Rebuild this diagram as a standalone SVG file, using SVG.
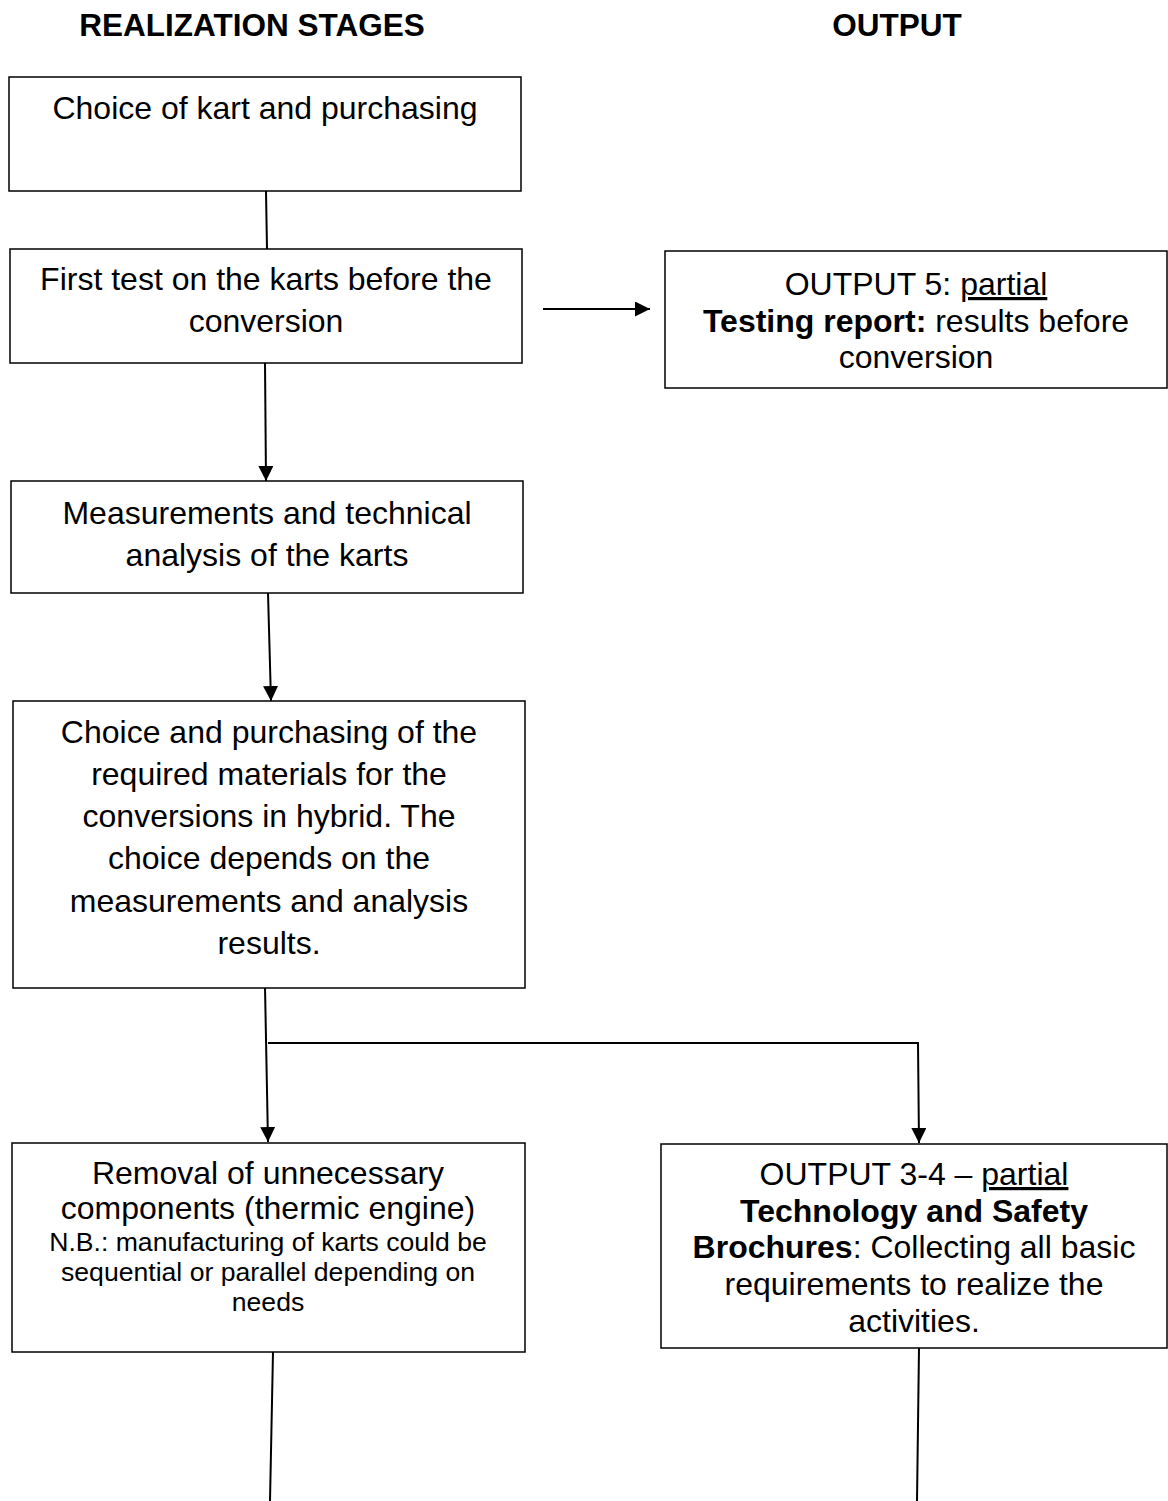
<svg xmlns="http://www.w3.org/2000/svg" width="1168" height="1501" viewBox="0 0 1168 1501">
<style>
.box{fill:#fff;stroke:#000;stroke-width:1.5}
.t{font-family:"Liberation Sans",Arial,sans-serif;font-size:32px;fill:#000;text-anchor:middle}
.s{font-family:"Liberation Sans",Arial,sans-serif;font-size:26.6px;fill:#000;text-anchor:middle}
.h{font-family:"Liberation Sans",Arial,sans-serif;font-size:31.5px;font-weight:bold;fill:#000;text-anchor:middle}
.b{font-weight:bold}
.u{text-decoration:underline}
.c{fill:none;stroke:#000;stroke-width:2}
</style>
<defs>
<marker id="arr" viewBox="0 0 10 10" refX="10" refY="5" markerWidth="7.5" markerHeight="7.5" markerUnits="strokeWidth" orient="auto">
<path d="M0,0 L10,5 L0,10 Z" fill="#000"/>
</marker>
</defs>
<rect width="1168" height="1501" fill="#fff"/>
<g id="headers">
<text class="h" x="252" y="36">REALIZATION STAGES</text>
<text class="h" x="897" y="36">OUTPUT</text>
</g>
<g id="connectors">
<line class="c" x1="266" y1="191" x2="267" y2="249"/>
<line class="c" x1="543" y1="309" x2="650" y2="309" marker-end="url(#arr)"/>
<line class="c" x1="265" y1="363" x2="266" y2="481" marker-end="url(#arr)"/>
<line class="c" x1="268" y1="593" x2="271" y2="701" marker-end="url(#arr)"/>
<line class="c" x1="265" y1="987" x2="268" y2="1142" marker-end="url(#arr)"/>
<polyline class="c" points="268,1043 918,1043 919,1143" marker-end="url(#arr)"/>
<line class="c" x1="273" y1="1352" x2="270" y2="1501"/>
<line class="c" x1="919" y1="1348" x2="917" y2="1501"/>
</g>
<g id="n1">
<rect class="box" x="9" y="77" width="512" height="114"/>
<text class="t" x="265" y="119">Choice of kart and purchasing</text>
</g>
<g id="n2">
<rect class="box" x="10" y="249" width="512" height="114"/>
<text class="t" x="266" y="290">First test on the karts before the</text>
<text class="t" x="266" y="332">conversion</text>
</g>
<g id="n3">
<rect class="box" x="665" y="251" width="502" height="137"/>
<text class="t" x="916" y="295">OUTPUT 5: <tspan class="u">partial</tspan></text>
<text class="t" x="916" y="332"><tspan class="b">Testing report:</tspan> results before</text>
<text class="t" x="916" y="368">conversion</text>
</g>
<g id="n4">
<rect class="box" x="11" y="481" width="512" height="112"/>
<text class="t" x="267" y="524">Measurements and technical</text>
<text class="t" x="267" y="566">analysis of the karts</text>
</g>
<g id="n5">
<rect class="box" x="13" y="701" width="512" height="287"/>
<text class="t" x="269" y="743">Choice and purchasing of the</text>
<text class="t" x="269" y="785">required materials for the</text>
<text class="t" x="269" y="827">conversions in hybrid. The</text>
<text class="t" x="269" y="869">choice depends on the</text>
<text class="t" x="269" y="912">measurements and analysis</text>
<text class="t" x="269" y="954">results.</text>
</g>
<g id="n6">
<rect class="box" x="12" y="1143" width="513" height="209"/>
<text class="t" x="268" y="1184">Removal of unnecessary</text>
<text class="t" x="268" y="1219">components (thermic engine)</text>
<text class="s" x="268" y="1251">N.B.: manufacturing of karts could be</text>
<text class="s" x="268" y="1281">sequential or parallel depending on</text>
<text class="s" x="268" y="1311">needs</text>
</g>
<g id="n7">
<rect class="box" x="661" y="1144" width="506" height="204"/>
<text class="t" x="914" y="1185">OUTPUT 3-4 – <tspan class="u">partial</tspan></text>
<text class="t b" x="914" y="1222">Technology and Safety</text>
<text class="t" x="914" y="1258"><tspan class="b">Brochures</tspan>: Collecting all basic</text>
<text class="t" x="914" y="1295">requirements to realize the</text>
<text class="t" x="914" y="1332">activities.</text>
</g>
</svg>
